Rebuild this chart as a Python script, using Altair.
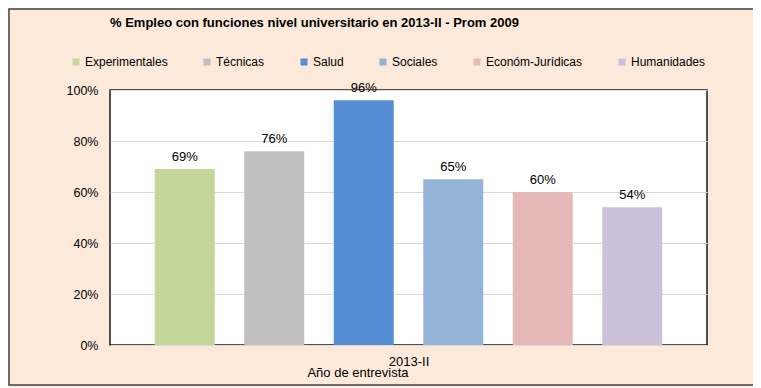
import altair as alt
import pandas as pd

categories = ["Experimentales", "Técnicas", "Salud", "Sociales", "Económ-Jurídicas", "Humanidades"]
values = [69, 76, 96, 65, 60, 54]
colors = ["#C4D79B", "#BFBFBF", "#558ED5", "#95B3D7", "#E6B9B8", "#CCC1DA"]
y_ticks = [0, 0.2, 0.4, 0.6, 0.8, 1.0]
title_text = "% Empleo con funciones nivel universitario en 2013-II - Prom 2009"
x_title = "2013-II"
x_subtitle = "Año de entrevista"

df = pd.DataFrame({
    "cat": categories,
    "val": [v / 100 for v in values],
    "label": [f"{v}%" for v in values],
})
one = pd.DataFrame({"k": [0]})

FONT = "Liberation Sans"

base = alt.Chart(df).encode(
    x=alt.X("cat:N", sort=categories,
            scale=alt.Scale(paddingInner=0.33, paddingOuter=0.5),
            axis=alt.Axis(labels=False, ticks=False, domain=False, title=x_title,
                          titleFontSize=13, titleFontWeight="normal", titleFont=FONT,
                          titleColor="#000000", titlePadding=10)),
)

bars = base.mark_bar().encode(
    y=alt.Y("val:Q", scale=alt.Scale(domain=[0, 1]),
            axis=alt.Axis(format=".0%", values=y_ticks, ticks=False, domain=False,
                          labelFontSize=12.5, labelFont=FONT, labelColor="#000000",
                          labelPadding=12, gridColor="#D9D9D9", gridWidth=1, title=None)),
    color=alt.Color("cat:N",
                    scale=alt.Scale(domain=categories, range=colors),
                    legend=alt.Legend(title=None, orient="none", direction="horizontal",
                                      legendX=-40, legendY=-34, symbolType="square",
                                      symbolSize=49, symbolStrokeWidth=0, labelFontSize=12,
                                      labelFont=FONT, labelColor="#000000", labelOffset=3,
                                      columnPadding=33, padding=0, gridAlign="none")),
)

labels = base.mark_text(fontSize=13, font=FONT, color="#000000", baseline="alphabetic", dy=-8).encode(
    y=alt.Y("val:Q"),
    text="label:N",
)

title = alt.Chart(one).mark_text(fontSize=13, font=FONT, fontWeight="bold", color="#000000",
                                 align="left", baseline="alphabetic", text=title_text).encode(
    x=alt.value(0), y=alt.value(-63))

sub = alt.Chart(one).mark_text(fontSize=13, font=FONT, color="#000000",
                               align="center", baseline="alphabetic", text=x_subtitle).encode(
    x=alt.value(248), y=alt.value(287))

border = alt.Chart(one).mark_rect(filled=False, stroke="#404040", strokeWidth=1.5).encode(
    x=alt.value(-101), x2=alt.value(700), y=alt.value(-81), y2=alt.value(295))

chart = alt.layer(bars, labels, title, sub, border).properties(
    width=597, height=255,
    autosize=alt.AutoSizeParams(type="none"),
    padding={"left": 102, "top": 82, "right": 46, "bottom": 42},
    background="#FDE9D9",
).configure_view(fill="#FFFFFF", stroke="#1A1A1A", strokeWidth=1.5)

chart.save("out.html", embed_options={"renderer": "svg", "actions": False})
